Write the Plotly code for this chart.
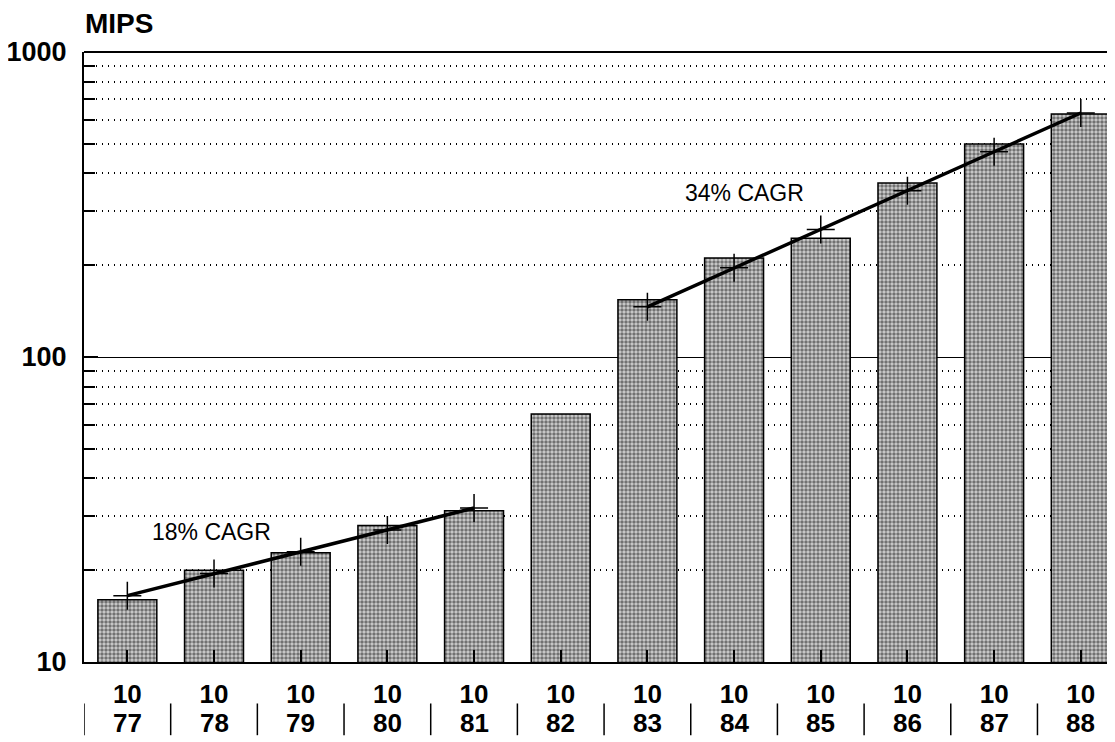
import plotly.graph_objects as go

years = ["77", "78", "79", "80", "81", "82", "83", "84", "85", "86", "87", "88"]
month_label = "10"
mips = [16, 20, 22.8, 28, 31.3, 65, 154, 211, 245, 372, 499, 626]

trend1_years = ["77", "78", "79", "80", "81"]
trend1_vals = [16.5, 19.5, 23.0, 27.1, 32.0]
trend2_years = ["83", "84", "85", "86", "87", "88"]
trend2_vals = [146, 196, 262, 351, 471, 631]

major_ticks = [10, 100, 1000]
major_labels = ["10", "100", "1000"]
minor_ticks = [20, 30, 40, 50, 60, 70, 80, 90, 200, 300, 400, 500, 600, 700, 800, 900]

idx = {y: i for i, y in enumerate(years)}
xs = list(range(len(years)))

FONT = "Liberation Sans, Arial, sans-serif"

fig = go.Figure()
fig.add_trace(go.Bar(
    x=xs, y=mips, width=0.68,
    marker=dict(
        color="#c8c8c8",
        line=dict(color="black", width=1.5),
        pattern=dict(shape=".", fgcolor="#111111", bgcolor="#d0d0d0", size=4, solidity=0.6),
    ),
    showlegend=False, hoverinfo="skip",
))
for tys, tvals in ((trend1_years, trend1_vals), (trend2_years, trend2_vals)):
    fig.add_trace(go.Scatter(
        x=[idx[y] for y in tys], y=tvals, mode="lines+markers",
        line=dict(color="black", width=3.5),
        marker=dict(symbol="cross-thin", size=20, line=dict(color="black", width=1.5)),
        showlegend=False, hoverinfo="skip",
    ))

# category separators under tick labels
for i in range(len(years) + 1):
    fig.add_shape(type="line", xref="x", yref="paper",
                  x0=i - 0.5, x1=i - 0.5, y0=-0.068, y1=-0.12,
                  line=dict(color="black", width=1.5))

# year labels (second line of the category labels)
for i, y in enumerate(years):
    fig.add_annotation(x=i, xref="x", y=-0.1, yref="paper", yanchor="middle",
                       text=f"<b>{y}</b>", showarrow=False,
                       font=dict(family=FONT, size=26, color="black"))

fig.add_annotation(x=0.975, y=1.426, xref="x", yref="y", yanchor="middle", text="18% CAGR",
                   showarrow=False, font=dict(family=FONT, size=23, color="black"))
fig.add_annotation(x=7.12, y=2.538, xref="x", yref="y", yanchor="middle", text="34% CAGR",
                   showarrow=False, font=dict(family=FONT, size=23, color="black"))
fig.add_annotation(x=0, xref="paper", y=1.0, yref="paper", yanchor="middle", xanchor="left",
                   yshift=29, xshift=-1, text="<b>MIPS</b>", showarrow=False,
                   font=dict(family=FONT, size=28, color="black"))

fig.update_layout(
    width=1107, height=734,
    margin=dict(l=76, r=3, t=44, b=80, autoexpand=False),
    paper_bgcolor="white", plot_bgcolor="white",
    font=dict(family=FONT, color="black"),
    xaxis=dict(
        range=[-0.5, 11.36], automargin=False,
        tickmode="array", tickvals=xs,
        ticktext=[f"<b>{month_label}</b>" for _ in years],
        tickfont=dict(family=FONT, size=26, color="black"),
        ticks="inside", ticklen=12, tickwidth=1.5, tickcolor="black",
        ticklabelstandoff=8,
        showline=True, linecolor="black", linewidth=1.5,
        showgrid=False, zeroline=False,
    ),
    yaxis=dict(
        type="log", range=[1, 3], automargin=False,
        tickmode="array", tickvals=major_ticks,
        ticktext=[f"<b>{t}</b>" for t in major_labels],
        tickfont=dict(family=FONT, size=27, color="black"),
        ticks="inside", ticklen=14, tickwidth=1.5, tickcolor="black",
        showline=True, linecolor="black", linewidth=2,
        showgrid=True, gridcolor="black", gridwidth=1.2,
        ticklabelstandoff=10,
        minor=dict(tickmode="array", tickvals=minor_ticks, ticks="inside", ticklen=11,
                   tickwidth=2, tickcolor="black",
                   showgrid=True, gridcolor="black", gridwidth=1.5, griddash="1px,5px"),
        zeroline=False,
    ),
)
fig.add_shape(type="line", xref="paper", yref="paper", x0=0, x1=1, y0=1, y1=1,
              line=dict(color="black", width=2))

fig.write_html("out.html")
